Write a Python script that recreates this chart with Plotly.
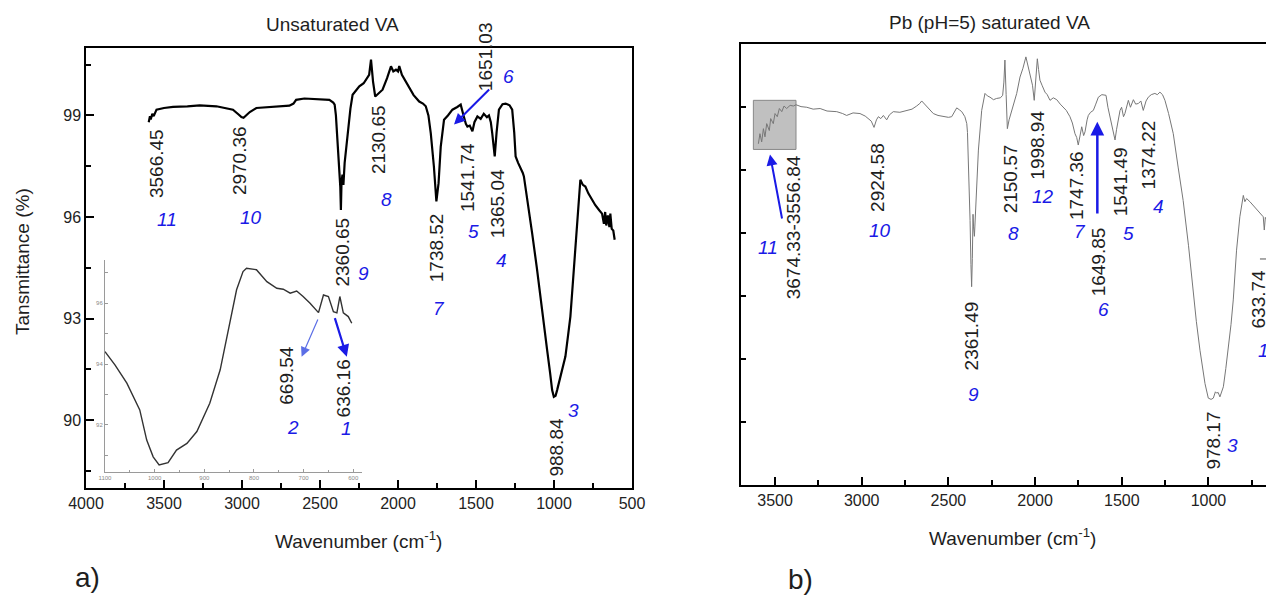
import plotly.graph_objects as go

# ---------------- Panel a: unsaturated VA (main spectrum) ----------------
wn_a = [3598, 3590, 3585, 3575, 3566, 3555, 3548, 3500, 3442, 3350, 3271, 3164, 3100, 3058,
        3020, 3004, 2990, 2972, 2950, 2908, 2800, 2696, 2670, 2653, 2600, 2547, 2480, 2440,
        2415, 2406, 2398, 2393, 2385, 2376, 2370, 2366, 2362, 2356, 2350, 2342, 2323, 2305,
        2291, 2270, 2248, 2220, 2205, 2185, 2173, 2160, 2146, 2125, 2099, 2070, 2045, 2030,
        2013, 2000, 1992, 1975, 1950, 1928, 1900, 1864, 1840, 1822, 1805, 1790, 1770, 1754,
        1740, 1726, 1705, 1680, 1651, 1620, 1598, 1580, 1565, 1555, 1540, 1523, 1510, 1491,
        1470, 1450, 1430, 1417, 1405, 1396, 1380, 1368, 1353, 1330, 1310, 1285, 1268, 1255,
        1246, 1230, 1214, 1200, 1193, 1170, 1140, 1110, 1086, 1065, 1044, 1025, 1012, 1001,
        990, 980, 960, 927, 910, 895, 880, 863, 845, 831, 815, 799, 780, 756, 735, 710, 692,
        680, 672, 665, 655, 645, 639, 630, 620, 611]
t_a = [98.80, 98.98, 98.88, 99.05, 98.98, 99.12, 99.17, 99.22, 99.25, 99.27, 99.30, 99.27, 99.22, 99.17,
       99.02, 98.95, 98.93, 99.00, 99.10, 99.22, 99.25, 99.29, 99.35, 99.46, 99.50, 99.49, 99.48, 99.46,
       99.38, 99.32, 99.00, 98.67, 98.00, 97.30, 96.90, 96.21, 97.05, 97.25, 96.95, 97.60, 98.49, 99.20,
       99.61, 99.75, 99.86, 99.95, 100.05, 100.20, 100.65, 100.00, 99.56, 99.65, 99.76, 100.10, 100.45, 100.30,
       100.35, 100.30, 100.46, 100.20, 100.00, 99.80, 99.60, 99.41, 99.35, 99.27, 99.00, 98.48, 97.50, 96.46,
       97.00, 98.08, 98.87, 99.00, 99.17, 99.25, 99.32, 99.00, 98.75, 98.67, 98.70, 98.53, 98.80, 98.97,
       98.90, 99.05, 98.95, 99.00, 98.80, 98.48, 97.79, 98.50, 99.17, 99.33, 99.35, 99.30, 99.17, 98.50,
       97.79, 97.60, 97.45, 97.30, 97.20, 96.50, 95.52, 94.50, 93.55, 92.80, 92.07, 91.40, 90.89, 90.69,
       90.72, 90.89, 91.30, 91.88, 92.50, 93.06, 94.00, 95.03, 96.30, 97.10, 96.95, 96.90, 96.70, 96.50, 96.35, 96.20, 96.10,
       95.80, 96.15, 95.75, 96.05, 95.70, 96.10, 95.65, 95.60, 95.33]

peak_a_text = ["3566.45", "2970.36", "2360.65", "2130.65", "1651.03", "1541.74", "1365.04", "1738.52", "988.84"]
peak_a_x = [3544, 3011, 2355, 2120, 1438, 1556, 1357, 1754, 990]
peak_a_y = [97.57, 97.66, 94.97, 98.28, 100.74, 97.16, 96.39, 95.09, 89.21]
num_a_text = ["11", "10", "9", "8", "6", "5", "4", "7", "3"]
num_a_x = [3484, 2941, 2221, 2073, 1293, 1519, 1336, 1737, 873]
num_a_y = [95.92, 95.98, 94.34, 96.51, 100.15, 95.57, 94.73, 93.31, 90.30]
arrow_a = dict(tail=(1406, 99.81), head=(1641, 98.73))

# ---------------- Panel a inset ----------------
wn_in = [1100, 1080, 1056, 1030, 1016, 1003, 991, 973, 956, 935, 915, 889, 868, 848, 835, 822,
         815, 795, 774, 754, 741, 727, 714, 701, 687, 670, 660, 650, 640, 633, 627, 620, 610, 603]
t_in = [94.41, 93.97, 93.37, 92.49, 91.50, 90.95, 90.68, 90.76, 91.17, 91.39, 91.78, 92.71, 93.81,
        95.34, 96.44, 97.04, 97.15, 97.10, 96.71, 96.49, 96.46, 96.33, 96.40, 96.22, 96.00, 95.69,
        96.27, 96.22, 95.72, 95.68, 96.22, 95.68, 95.56, 95.34]
inset_xticks = [1100, 1000, 900, 800, 700, 600]
inset_yticks = [91, 92, 93, 94, 95, 96, 97]
inset_ylabels = ["", "92", "", "94", "", "96", ""]
peak_in_text = ["669.54", "636.16"]
peak_in_x = [734, 620]
peak_in_y = [93.64, 93.21]
num_in_text = ["2", "1"]
num_in_x = [721, 613]
num_in_y = [91.90, 91.87]

# ---------------- Panel b: Pb (pH=5) saturated VA ----------------
wn_b = [3596, 3587, 3577, 3567, 3558, 3548, 3533, 3525, 3510, 3500, 3487, 3475, 3461, 3448, 3433, 3413,
        3394, 3379, 3350, 3317, 3280, 3240, 3200, 3144, 3110, 3087, 3050, 3010, 2980, 2962, 2945, 2929,
        2915, 2904, 2890, 2875, 2856, 2840, 2818, 2780, 2740, 2710, 2683, 2665, 2654, 2640, 2625, 2605,
        2587, 2560, 2529, 2500, 2481, 2465, 2452, 2437, 2423, 2405, 2394, 2390, 2382, 2375, 2370, 2366,
        2362, 2358, 2355, 2350, 2345, 2337, 2327, 2308, 2289, 2275, 2260, 2240, 2222, 2200, 2187, 2180,
        2174, 2167, 2160, 2150, 2135, 2126, 2106, 2087, 2070, 2053, 2040, 2029, 2015, 2005, 1995, 1987,
        1980, 1972, 1960, 1943, 1930, 1914, 1895, 1875, 1855, 1837, 1820, 1799, 1785, 1770, 1760, 1751,
        1740, 1731, 1720, 1712, 1700, 1693, 1680, 1664, 1650, 1635, 1615, 1591, 1580, 1568, 1558, 1549,
        1539, 1530, 1520, 1510, 1501, 1490, 1482, 1470, 1462, 1450, 1433, 1420, 1404, 1390, 1376, 1360,
        1347, 1330, 1309, 1295, 1280, 1265, 1251, 1230, 1203, 1175, 1146, 1115, 1088, 1070, 1049, 1035,
        1020, 1001, 985, 972, 960, 953, 944, 934, 914, 900, 886, 870, 857, 838, 819, 805, 799, 790, 780,
        761, 745, 735, 722, 705, 690, 684, 678, 672, 664, 659, 655, 645, 635, 630, 627, 624]
t_b = [5.42, 5.58, 5.45, 5.66, 5.53, 5.74, 5.63, 5.82, 5.74, 5.90, 5.85, 5.98, 5.93, 6.02, 5.98, 6.03,
       6.02, 6.04, 6.01, 6.00, 5.97, 5.98, 5.94, 5.93, 5.90, 5.87, 5.91, 5.90, 5.86, 5.82, 5.78, 5.68,
       5.80, 5.85, 5.82, 5.87, 5.80, 5.88, 5.93, 5.92, 5.95, 5.97, 6.02, 6.06, 6.10, 6.06, 6.02, 5.95,
       5.90, 5.87, 5.85, 5.84, 5.85, 5.93, 5.99, 5.96, 5.93, 5.85, 5.74, 5.60, 5.00, 4.20, 3.50, 3.15,
       3.60, 4.30, 4.10, 3.95, 4.30, 4.60, 5.32, 5.95, 6.22, 6.18, 6.16, 6.12, 6.14, 6.15, 6.19, 6.40,
       6.75, 6.20, 5.66, 5.80, 5.95, 6.06, 6.22, 6.48, 6.62, 6.80, 6.65, 6.53, 6.35, 6.11, 6.50, 6.77,
       6.60, 6.43, 6.35, 6.24, 6.20, 6.11, 6.15, 6.12, 6.05, 6.00, 5.95, 5.85, 5.75, 5.58, 5.52, 5.40,
       5.60, 5.69, 5.55, 5.61, 5.80, 5.87, 5.92, 5.95, 6.05, 6.16, 6.20, 6.19, 6.00, 5.85, 5.70, 5.63,
       5.48, 5.65, 5.79, 5.95, 6.00, 5.85, 5.90, 6.05, 6.11, 6.00, 6.12, 6.05, 6.06, 6.10, 5.95, 6.10,
       6.16, 6.20, 6.22, 6.20, 6.24, 6.20, 6.11, 5.90, 5.58, 5.05, 4.52, 3.80, 3.04, 2.60, 2.14, 1.85,
       1.61, 1.38, 1.36, 1.38, 1.48, 1.46, 1.47, 1.40, 1.56, 1.85, 2.14, 2.55, 2.94, 3.73, 4.26, 4.55, 4.60, 4.50, 4.55,
       4.50, 4.45, 4.42, 4.39, 4.32, 4.28, 4.26, 4.05, 4.25, 4.21, 3.90, 3.57, 3.65, 3.70, 3.73, 2.00, 0.60]
b_yticks = [1, 2, 3, 4, 5, 6]
peak_b_text = ["3674.33-3556.84", "2924.58", "2361.49", "2150.57", "1998.94", "1747.36", "1649.85",
               "1541.49", "1374.22", "978.17", "633.74"]
peak_b_x = [3394, 2913, 2366, 2145, 1991, 1760, 1636, 1510, 1347, 972, 713]
peak_b_y = [4.10, 4.89, 2.37, 4.87, 5.40, 4.76, 3.54, 4.81, 5.24, 0.71, 2.95]
num_b_text = ["11", "10", "9", "8", "12", "7", "6", "5", "4", "3", "1"]
num_b_x = [3539, 2894, 2356, 2126, 1953, 1741, 1603, 1462, 1289, 863, 684]
num_b_y = [3.78, 4.05, 1.43, 4.00, 4.58, 4.02, 2.78, 4.00, 4.42, 0.63, 2.14]
box_b = dict(x0=3625, x1=3379, y0=5.33, y1=6.11)

FONT = "Arial, Liberation Sans, sans-serif"
BLUE = "#1a1ae6"

fig = go.Figure()
fig.add_trace(go.Scatter(x=wn_a, y=t_a, mode="lines", line=dict(color="black", width=2.2),
                         xaxis="x", yaxis="y", showlegend=False, hoverinfo="skip"))
fig.add_trace(go.Scatter(x=wn_b, y=t_b, mode="lines", line=dict(color="#777777", width=1),
                         xaxis="x2", yaxis="y2", showlegend=False, hoverinfo="skip"))
fig.add_trace(go.Scatter(x=wn_in, y=t_in, mode="lines", line=dict(color="#333333", width=1.4),
                         xaxis="x3", yaxis="y3", showlegend=False, hoverinfo="skip"))

W, H = 1274, 595
OX, OY = 8, 8   # page offset of the figure inside the browser window


def dx(a, b):
    return [(a - OX) / W, min((b - OX) / W, 1.0)]


def dy(top, bot):
    return [1 - (bot - OY) / H, 1 - (top - OY) / H]


common = dict(showgrid=False, zeroline=False, showline=True, linecolor="black", linewidth=1.5,
              ticks="inside", ticklen=8, tickwidth=1.5, tickcolor="black", automargin=False,
              tickfont=dict(family=FONT, size=16, color="#222"))

fig.update_layout(
    template="none",
    width=W, height=H, margin=dict(l=0, r=0, t=0, b=0, pad=0, autoexpand=False),
    paper_bgcolor="white", plot_bgcolor="rgba(0,0,0,0)",
    xaxis=dict(domain=dx(86, 632), range=[4000, 500], anchor="y", tickmode="linear", tick0=500, dtick=500,
               mirror=True, minor=dict(ticks="inside", ticklen=5, tickwidth=1.5, tickcolor="black", dtick=250, tick0=250),
               **common),
    yaxis=dict(domain=dy(47.7, 488), range=[88, 101], anchor="x", tickmode="linear", tick0=90, dtick=3,
               mirror=True, minor=dict(ticks="inside", ticklen=5, tickwidth=1.5, tickcolor="black", dtick=1.5, tick0=90),
               **common),
    xaxis2=dict(domain=dx(740.7, 1274), range=[3698, 622], anchor="y2", tickmode="linear", tick0=500, dtick=500,
                mirror=True, minor=dict(ticks="inside", ticklen=5, tickwidth=1.5, tickcolor="black", dtick=250, tick0=250),
                **common),
    yaxis2=dict(domain=dy(44.3, 485), range=[0, 7], anchor="x2", tickmode="array", tickvals=b_yticks,
                showticklabels=False, ticklen=6, **{k: v for k, v in common.items() if k != "ticklen"}),
    xaxis3=dict(domain=dx(105, 361.7), range=[1100, 583], anchor="y3", tickmode="array", tickvals=inset_xticks,
                showgrid=False, zeroline=False, showline=True, linecolor="#9a9a9a", linewidth=1, automargin=False,
                ticks="inside", ticklen=3, tickwidth=1, tickcolor="#9a9a9a",
                minor=dict(ticks="inside", ticklen=2, tickcolor="#9a9a9a", dtick=50, tick0=600),
                tickfont=dict(family=FONT, size=6, color="#888")),
    yaxis3=dict(domain=dy(260, 471.7), range=[90.46, 97.42], anchor="x3", tickmode="array",
                tickvals=inset_yticks, ticktext=inset_ylabels, automargin=False,
                showgrid=False, zeroline=False, showline=True, linecolor="#9a9a9a", linewidth=1,
                ticks="inside", ticklen=3, tickwidth=1, tickcolor="#9a9a9a",
                tickfont=dict(family=FONT, size=6, color="#888")),
)

ann = []


def label(txt, x, y, xr, yr):
    ann.append(dict(text=txt, x=x, y=y, xref=xr, yref=yr, showarrow=False, textangle=-90,
                    xanchor="center", yanchor="middle",
                    font=dict(family=FONT, size=19, color="#1e1e1e")))


def num(txt, x, y, xr, yr):
    ann.append(dict(text="<i>%s</i>" % txt, x=x, y=y, xref=xr, yref=yr, showarrow=False,
                    xanchor="center", yanchor="middle",
                    font=dict(family=FONT, size=19, color=BLUE)))


for t, x, y in zip(peak_a_text, peak_a_x, peak_a_y):
    label(t, x, y, "x", "y")
for t, x, y in zip(num_a_text, num_a_x, num_a_y):
    num(t, x, y, "x", "y")
for t, x, y in zip(peak_in_text, peak_in_x, peak_in_y):
    label(t, x, y, "x3", "y3")
for t, x, y in zip(num_in_text, num_in_x, num_in_y):
    num(t, x, y, "x3", "y3")
for t, x, y in zip(peak_b_text, peak_b_x, peak_b_y):
    label(t, x, y, "x2", "y2")
for t, x, y in zip(num_b_text, num_b_x, num_b_y):
    num(t, x, y, "x2", "y2")


def arrow(tail, head, xr, yr, width=2, color=BLUE, size=1.1):
    ann.append(dict(text="", x=head[0], y=head[1], ax=tail[0], ay=tail[1], xref=xr, yref=yr,
                    axref=xr, ayref=yr, showarrow=True, arrowhead=2, arrowsize=size,
                    arrowwidth=width, arrowcolor=color, standoff=0, startstandoff=0))


arrow(arrow_a["tail"], arrow_a["head"], "x", "y")
arrow((670, 95.51), (704, 94.24), "x3", "y3", width=1.2, color="#5b6ee6", size=1.6)
arrow((638, 95.56), (613, 94.24), "x3", "y3", width=2.2)
arrow((3458, 4.21), (3529, 5.25), "x2", "y2")
arrow((1641, 4.29), (1641, 5.77), "x2", "y2", width=2.5)


# titles and panel letters
def ptext(txt, px, py, size, angle=0):
    ann.append(dict(text=txt, x=(px - OX) / W, y=1 - (py - OY) / H, xref="paper", yref="paper",
                    showarrow=False, xanchor="center", yanchor="middle",
                    textangle=angle, font=dict(family=FONT, size=size, color="#1e1e1e")))


ptext("Unsaturated VA", 332, 24, 19)
ptext("Pb (pH=5) saturated VA", 989, 22, 19)
ptext("Wavenumber (cm<sup>-1</sup>)", 358, 540, 19)
ptext("Wavenumber (cm<sup>-1</sup>)", 1012, 537, 19)
ptext("Tansmittance (%)", 22, 262, 19, angle=-90)
ptext("a)", 87, 577, 28)
ptext("b)", 800, 579, 28)

fig.update_layout(annotations=ann)

fig.add_shape(type="rect", xref="x2", yref="y2", x0=box_b["x0"], x1=box_b["x1"], y0=box_b["y0"], y1=box_b["y1"],
              fillcolor="rgba(150,150,150,0.6)", line=dict(color="#888", width=1), layer="below")
fig.add_shape(type="line", xref="x2", yref="y2", x0=703, x1=663, y0=3.59, y1=3.59,
              line=dict(color="#555", width=1))

fig.write_html("out.html")
